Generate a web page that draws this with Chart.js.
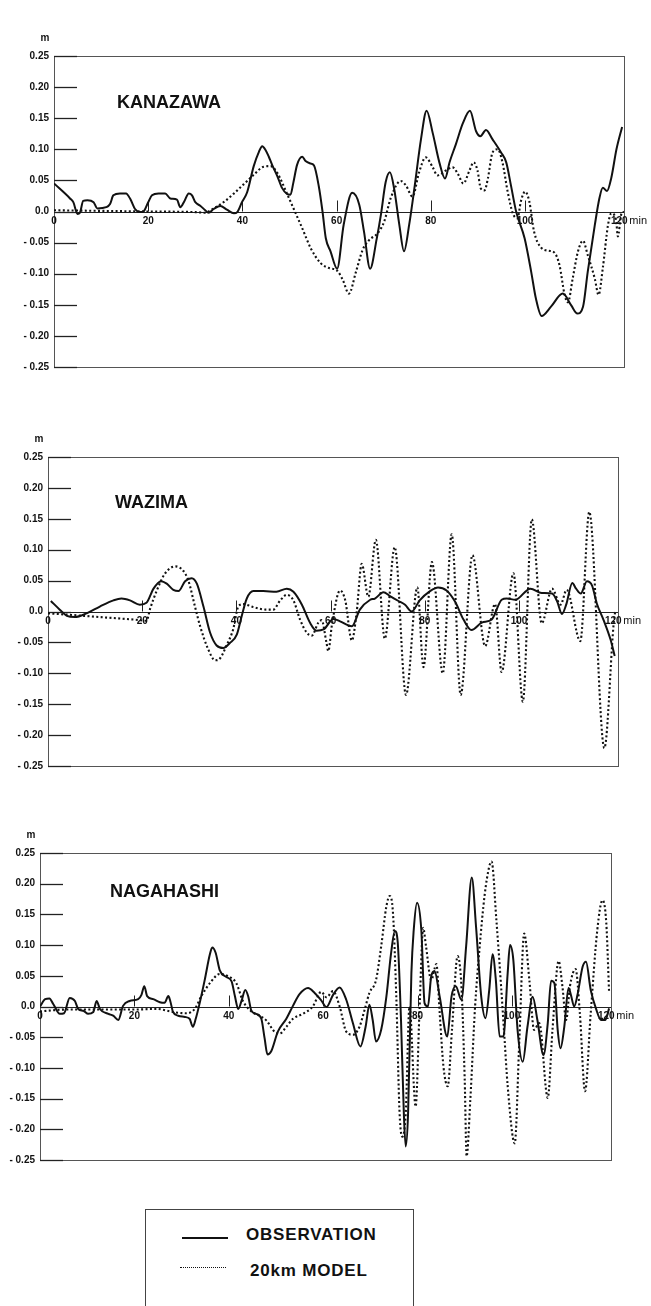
<!DOCTYPE html>
<html>
<head>
<meta charset="utf-8">
<script src="https://cdn.jsdelivr.net/npm/chart.js@4.4.1/dist/chart.umd.min.js"></script>
<style>
body{margin:0;background:#fff;}
#page{position:relative;width:651px;height:1306px;overflow:hidden;font-family:"Liberation Sans",Arial,sans-serif;}
#page canvas{position:absolute;left:0;}
#legend{position:absolute;left:145px;top:1209px;width:269px;height:120px;border:1px solid #444;box-sizing:border-box;}
#legend .smp{position:absolute;width:46px;height:0;}
#legend .lbl{position:absolute;font-weight:bold;font-size:17px;letter-spacing:0.8px;line-height:18px;color:#111;white-space:nowrap;}
</style>
</head>
<body>
<div id="page">
  <canvas id="c1"></canvas>
  <canvas id="c2"></canvas>
  <canvas id="c3"></canvas>
  <div id="legend">
    <div class="smp" style="left:36px;top:27px;border-top:2px solid #111"></div>
    <div class="lbl" style="left:100px;top:16px">OBSERVATION</div>
    <div class="smp" style="left:34px;top:57px;border-top:1.6px dotted #111"></div>
    <div class="lbl" style="left:104px;top:52px">20km MODEL</div>
  </div>
</div>
<script>
// axis ticks
const yTicks = [0.25, 0.20, 0.15, 0.10, 0.05, 0, -0.05, -0.10, -0.15, -0.20, -0.25];
const yTickLabels = ['0.25', '0.20', '0.15', '0.10', '0.05', '0.0', '- 0.05', '- 0.10', '- 0.15', '- 0.20', '- 0.25'];
const xTicks = [0, 20, 40, 60, 80, 100, 120];
const xTickLabels = ['0', '20', '40', '60', '80', '100', '120'];
const xUnit = 'min';
const yUnit = 'm';
const stations = ['KANAZAWA', 'WAZIMA', 'NAGAHASHI'];

// KANAZAWA
const kanazawaObsT = [0,3.4,4.1,5,5.5,6.2,7.1,8.4,9.2,11.1,11.9,12.6,14,15.3,16.2,17.2,18.3,19,20,20.8,22.2,23.6,24.7,26.1,26.8,27.7,28.6,29.3,30,31.1,32.1,32.8,33.9,35.3,36.7,38.2,38.9,39.9,41,42.4,43.5,44.2,44.9,45.6,46.3,47.4,48.4,49.5,50.2,50.8,51.6,52.7,53.4,54.5,55.2,56.2,57,57.7,58.7,60.1,61.5,63.3,64.8,65.8,67.1,68.5,69.4,70.4,71.3,72.2,73.3,74.3,75.4,76.5,77.9,79.1,80.4,81.8,83,84,85.3,86.8,88.3,89.6,90.5,91.7,93.1,94.9,96,97,98.1,99.9,101.3,102.3,103.5,105.5,108,109.8,111.1,112.3,113.3,114.8,115.8,116.5,117.4,118.3,119.4,120.6];
const kanazawaObsV = [0.045,0.021,0.015,-0.004,-0.002,0.017,0.018,0.015,0.005,0.007,0.012,0.026,0.029,0.029,0.02,0.004,-0.001,0,0.015,0.026,0.029,0.029,0.021,0.019,0.007,0.017,0.029,0.026,0.015,0.009,0.002,-0.002,0.004,0.009,0.003,-0.003,-0.001,0.015,0.031,0.073,0.096,0.105,0.099,0.088,0.075,0.057,0.038,0.028,0.027,0.046,0.075,0.088,0.081,0.077,0.074,0.041,0,-0.043,-0.064,-0.092,-0.021,0.03,0.011,-0.032,-0.092,-0.044,-0.005,0.047,0.063,0.037,-0.021,-0.064,-0.021,0.037,0.116,0.162,0.126,0.079,0.053,0.08,0.108,0.142,0.162,0.129,0.121,0.131,0.116,0.095,0.079,0.042,0,-0.043,-0.097,-0.14,-0.168,-0.153,-0.132,-0.151,-0.164,-0.153,-0.097,-0.022,0.022,0.038,0.033,0.054,0.1,0.136];
const kanazawaModT = [0,10,20,30,32,33.9,36,38.2,40.3,42.4,44.5,46,47.4,49.5,50.9,52.7,54.5,56.6,58.4,60.1,61.3,62.6,64.1,65.5,66.9,68.7,70.1,71.5,73.6,74.7,76.1,77.5,78.9,80.4,81.4,82.3,83.2,84.6,85.7,86.9,88.2,89.1,89.9,90.6,91.4,92.1,93.1,94.2,95.2,96.3,97.4,98.4,99.1,100,100.9,101.9,103.4,105,106.2,107.3,108.4,109.1,110.1,111.2,112.3,113.3,114.8,115.6,116.5,117.6,118.3,119.3,119.7,120.4,121];
const kanazawaModV = [0.002,0.001,0,-0.001,-0.002,0.005,0.015,0.029,0.044,0.059,0.072,0.073,0.062,0.028,0.004,-0.027,-0.059,-0.083,-0.091,-0.095,-0.11,-0.132,-0.097,-0.062,-0.046,-0.035,-0.016,0.022,0.049,0.042,0.024,0.063,0.087,0.071,0.058,0.061,0.066,0.071,0.061,0.045,0.066,0.079,0.066,0.037,0.034,0.053,0.095,0.1,0.079,0.032,-0.003,-0.011,0.016,0.032,0.016,-0.032,-0.058,-0.063,-0.066,-0.086,-0.134,-0.146,-0.108,-0.065,-0.047,-0.07,-0.108,-0.134,-0.091,-0.022,-0.003,-0.013,-0.04,-0.005,0];

// WAZIMA
const wazimaObsT = [0.6,2.5,4,5.7,8.2,11,13.9,15.6,17.4,19.5,20.9,22.4,24,25.2,26.6,27.7,29.1,30.5,31.6,33,34.4,35.8,37.2,38.6,40.1,41.1,42.2,43.6,45.7,48.5,50.7,52.1,53.9,55.6,57,58.5,60.6,62,64.5,66.2,68.4,69.4,71.2,72.6,74.4,75.8,77.2,78.9,81.1,82.8,84.6,86.4,88.2,89.9,92.1,94.2,96.3,97.4,99.2,102.4,104.8,107,108.1,109.1,110,111.3,112.1,113.1,114.4,115.5,116.5,117.9,119.4,120.3];
const wazimaObsV = [0.017,0.003,-0.007,-0.009,-0.003,0.008,0.018,0.021,0.018,0.011,0.014,0.037,0.049,0.045,0.035,0.033,0.049,0.054,0.045,0.008,-0.034,-0.055,-0.059,-0.051,-0.037,-0.008,0.021,0.033,0.033,0.032,0.037,0.032,0.011,-0.018,-0.031,-0.029,-0.012,-0.016,-0.024,0.003,0.019,0.021,0.031,0.025,0.017,0.011,0,0.018,0.033,0.039,0.034,0.016,-0.013,-0.03,-0.018,-0.013,0.019,0.021,0.019,0.037,0.03,0.029,0.016,-0.004,0.011,0.046,0.037,0.029,0.049,0.042,0.013,-0.013,-0.045,-0.072];
const wazimaModT = [0,4,11,18.1,20.9,21.7,23.1,24.8,27,28.7,29.8,31.2,32.3,34,35.5,36.5,37.9,39.3,40.4,41.5,43.6,46.4,47.8,49.3,50.7,52.1,53.5,54.9,56,57.4,58.1,59.1,59.5,60.3,62,63.1,64.5,65.5,66.6,68,69.6,71.5,73.6,76,78.4,79.7,81.5,83.8,85.7,87.6,90.1,92.8,94.9,96.3,98.8,100.8,102.7,104.8,107,108.8,110.1,113,114.9,118.1,120.3,120.6];
const wazimaModV = [-0.003,-0.005,-0.009,-0.013,-0.015,0.005,0.034,0.061,0.073,0.066,0.05,0.008,-0.024,-0.061,-0.079,-0.076,-0.055,-0.029,0.008,0.012,0.007,0.003,0.003,0.018,0.027,0.018,-0.013,-0.034,-0.039,-0.018,-0.014,-0.05,-0.064,-0.02,0.034,0.018,-0.047,-0.003,0.077,0.024,0.116,-0.044,0.104,-0.135,0.039,-0.09,0.08,-0.1,0.125,-0.135,0.091,-0.056,0.012,-0.098,0.062,-0.146,0.149,-0.019,0.037,0.011,0.035,-0.048,0.161,-0.221,-0.005,0];

// NAGAHASHI
const nagahashiObsT = [0,1.1,2,2.8,4.2,5.1,6.3,7.4,8.1,9.2,10.2,11.3,12,12.7,14.5,15.5,16.6,17.6,19,20.8,21.5,22.1,22.7,24,25.4,26.4,27.2,27.6,28.2,29.3,30.7,31.7,32.4,33,33.7,34.9,36,36.5,37.2,38.1,39.5,40.6,41.3,42,42.7,43.5,44.1,44.8,45.8,46.9,47.6,48.2,49,50.4,52.2,53.6,55,56.8,58.2,59.6,60.7,62.1,63.5,64.9,66.3,67.9,69,69.8,70.5,71.2,72.3,73.4,74.4,75.2,75.8,76.5,77.1,77.5,78,78.7,79.2,79.9,80.8,81.5,82.2,82.9,83.6,84.7,86.3,87.2,88.1,89.3,90.3,91.5,92.4,93.5,94.4,95.2,95.9,96.6,97.4,98.2,99.1,99.6,100.3,101.2,102.3,103.3,104.4,105.4,106.7,107.6,108.3,109,109.7,110.3,111.1,112,112.5,113.2,113.9,115,115.7,116.7,117.8,118.9,119.8,120.6];
const nagahashiObsV = [0,0.012,0.013,0.004,-0.012,-0.011,0.014,0.009,-0.004,-0.007,-0.012,-0.009,0.009,-0.004,-0.012,-0.015,-0.022,0.001,0.009,0.012,0.019,0.033,0.017,0.012,0.007,0.006,0.017,0.009,-0.009,-0.015,-0.017,-0.02,-0.033,-0.02,0.001,0.043,0.085,0.096,0.088,0.059,0.048,0.041,0.017,-0.004,0.009,0.027,0.017,-0.007,-0.012,-0.02,-0.052,-0.078,-0.073,-0.041,-0.02,0.001,0.02,0.03,0.022,0.01,-0.001,0.019,0.031,0.011,-0.027,-0.065,-0.033,0.003,-0.022,-0.057,-0.038,0.016,0.087,0.123,0.105,-0.022,-0.174,-0.228,-0.174,0.054,0.125,0.169,0.125,0.005,0,0.049,0.058,0.016,-0.049,0.016,0.033,0.011,0.098,0.21,0.13,0.016,-0.019,0.027,0.085,0.043,-0.049,-0.049,0.054,0.1,0.076,-0.038,-0.09,-0.033,0.016,-0.022,-0.079,-0.027,0.042,0.038,-0.038,-0.068,-0.033,0.03,0.019,0,0.019,0.065,0.073,0.027,-0.003,-0.022,-0.022,-0.003];
const nagahashiModT = [0,5.6,12.7,19.7,24.7,28.2,31,32.8,34.2,36,38.1,40.2,41.6,43,44.8,46.5,48,49.7,50.8,52.2,53.6,55.7,57.8,59.6,60.7,62.1,63.5,64.9,66.3,67.7,68.8,69.8,71.2,72.3,73.4,74.1,74.8,75.5,76.2,76.8,77.5,78.3,79.6,80.4,81.2,81.8,82.9,84,84.7,85.5,86.4,87.3,88.5,89.3,90,90.4,91.2,92.2,93.2,94.2,95.2,95.7,96.7,97.7,98.4,99.1,100.6,101.6,102.6,103.7,104.7,105.8,107.6,108.6,109.9,110.7,111.5,112.3,113.5,114.4,115.5,116.7,118.1,119.2,120,120.6];
const nagahashiModV = [-0.008,-0.005,-0.005,-0.005,-0.004,-0.009,-0.011,-0.004,0.017,0.038,0.053,0.048,0.038,0.009,-0.008,-0.015,-0.023,-0.041,-0.044,-0.033,-0.02,-0.012,0,0.024,0.015,0.025,0,-0.041,-0.046,-0.033,-0.005,0.022,0.043,0.098,0.163,0.18,0.152,0.016,-0.174,-0.212,-0.174,0,-0.163,-0.011,0.128,0.098,0.043,0.069,-0.011,-0.098,-0.13,-0.038,0.082,0.033,-0.119,-0.244,-0.15,0,0.1,0.18,0.228,0.236,0.142,0.034,-0.048,-0.129,-0.223,-0.05,0.119,0.043,-0.038,-0.027,-0.149,-0.038,0.074,0.033,-0.022,0.033,0.061,-0.011,-0.138,-0.011,0.125,0.173,0.136,0.022];

const seriesT = [[kanazawaObsT, kanazawaModT], [wazimaObsT, wazimaModT], [nagahashiObsT, nagahashiModT]];
const seriesV = [[kanazawaObsV, kanazawaModV], [wazimaObsV, wazimaModV], [nagahashiObsV, nagahashiModV]];

// plot boxes on the page (px)
const boxes = [
  {id: 'c1', left: 54, right: 624, top: 56, bottom: 367, titleDx: 63, titleDy: 47},
  {id: 'c2', left: 48, right: 618, top: 457, bottom: 766, titleDx: 67, titleDy: 46},
  {id: 'c3', left: 40, right: 611, top: 853, bottom: 1160, titleDx: 70, titleDy: 39}
];
const PAD = 30;
const FONT = '"Liberation Sans", Arial, sans-serif';

function pts(ts, vs){ return ts.map((t, i) => ({x: t, y: vs[i]})); }

function yLabel(v){
  const i = yTicks.findIndex(t => Math.abs(t - v) < 1e-6);
  return i < 0 ? '' : yTickLabels[i];
}

function framePlugin(box, title){
  return {
    id: 'frame',
    beforeDatasetsDraw(chart){
      const {ctx, chartArea: a, scales: {x, y}} = chart;
      const y0 = y.getPixelForValue(0);
      ctx.save();
      ctx.strokeStyle = '#555';
      ctx.lineWidth = 1;
      ctx.strokeRect(a.left + 0.5, a.top + 0.5, a.right - a.left, a.bottom - a.top);
      // zero line
      ctx.strokeStyle = '#222';
      ctx.beginPath();
      ctx.moveTo(a.left, Math.round(y0) + 0.5);
      ctx.lineTo(a.right, Math.round(y0) + 0.5);
      ctx.stroke();
      // inward y ticks
      ctx.lineWidth = 1.3;
      yTicks.forEach(v => {
        const py = Math.round(y.getPixelForValue(v)) + 0.5;
        ctx.beginPath(); ctx.moveTo(a.left, py); ctx.lineTo(a.left + 23, py); ctx.stroke();
      });
      // x ticks above zero line
      ctx.lineWidth = 1;
      xTicks.slice(1, -1).forEach(t => {
        const px = Math.round(x.getPixelForValue(t)) + 0.5;
        ctx.beginPath(); ctx.moveTo(px, y0); ctx.lineTo(px, y0 - 11); ctx.stroke();
      });
      // x labels
      ctx.fillStyle = '#111';
      ctx.font = 'bold 10px ' + FONT;
      ctx.textAlign = 'center';
      ctx.textBaseline = 'top';
      xTicks.forEach((t, i) => {
        ctx.fillText(xTickLabels[i], x.getPixelForValue(t), y0 + 5);
      });
      ctx.textAlign = 'left';
      ctx.font = '11px ' + FONT;
      ctx.fillText(xUnit, x.getPixelForValue(120) + 10, y0 + 4);
      // unit and title
      ctx.textAlign = 'center';
      ctx.textBaseline = 'middle';
      ctx.font = 'bold 10px ' + FONT;
      ctx.fillText(yUnit, a.left - 9, a.top - 18);
      ctx.textAlign = 'left';
      ctx.font = 'bold 18px ' + FONT;
      ctx.fillText(title, a.left + box.titleDx, a.top + box.titleDy);
      ctx.restore();
    }
  };
}

boxes.forEach((b, k) => {
  const cv = document.getElementById(b.id);
  cv.width = 651;
  cv.height = b.bottom - b.top + 2 * PAD;
  cv.style.top = (b.top - PAD) + 'px';
  new Chart(cv.getContext('2d'), {
    type: 'line',
    data: {
      datasets: [
        {
          label: 'OBSERVATION',
          data: pts(seriesT[k][0], seriesV[k][0]),
          borderColor: '#111',
          borderWidth: 2,
          pointRadius: 0,
          cubicInterpolationMode: 'monotone',
          fill: false
        },
        {
          label: '20km MODEL',
          data: pts(seriesT[k][1], seriesV[k][1]),
          borderColor: '#111',
          borderWidth: 2.1,
          borderDash: [2, 2.4],
          pointRadius: 0,
          cubicInterpolationMode: 'monotone',
          fill: false
        }
      ]
    },
    options: {
      responsive: false,
      animation: false,
      layout: {padding: {top: PAD, bottom: PAD, left: 0, right: 651 - b.right}},
      plugins: {legend: {display: false}, tooltip: {enabled: false}},
      scales: {
        x: {type: 'linear', min: 0, max: 121, display: false},
        y: {
          type: 'linear', min: -0.25, max: 0.25,
          afterBuildTicks: s => { s.ticks = yTicks.map(v => ({value: v})); },
          afterFit: s => { s.width = b.left; },
          grid: {display: false, drawTicks: false},
          border: {display: false},
          ticks: {
            autoSkip: false,
            padding: 5,
            color: '#111',
            font: {family: FONT, size: 10, weight: 'bold'},
            callback: v => yLabel(v)
          }
        }
      }
    },
    plugins: [framePlugin(b, stations[k])]
  });
});
</script>
</body>
</html>
